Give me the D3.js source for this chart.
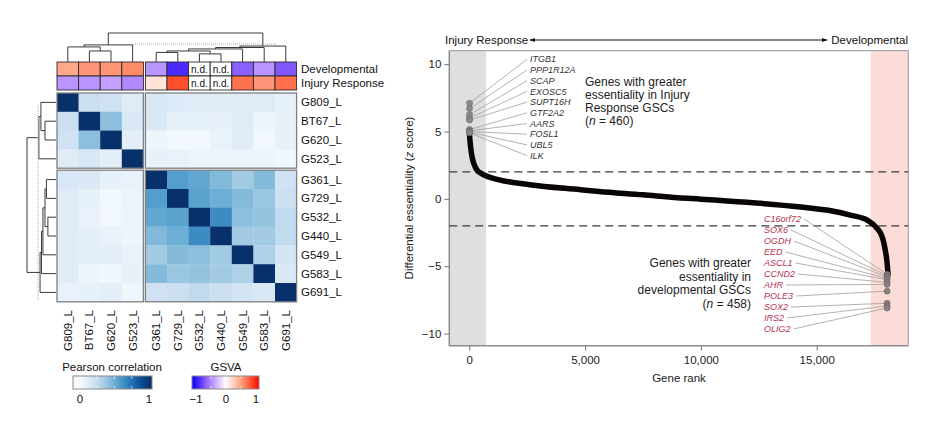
<!DOCTYPE html>
<html><head><meta charset="utf-8">
<script src="https://cdn.jsdelivr.net/npm/d3@7"></script>
<style>
body{margin:0;background:#fff;}
text{font-family:"Liberation Sans",Arial,Helvetica,sans-serif;}
</style>
</head><body>
<svg id="c" width="936" height="434"></svg>
<script>
// ---------------- DATA ----------------
const samples = ["G809_L","BT67_L","G620_L","G523_L","G361_L","G729_L","G532_L","G440_L","G549_L","G583_L","G691_L"];
const corr = [
 [1.00,0.22,0.20,0.12, 0.15,0.13,0.12,0.12,0.12,0.12,0.08],
 [0.22,1.00,0.42,0.15, 0.15,0.08,0.08,0.08,0.12,0.05,0.08],
 [0.20,0.42,1.00,0.10, 0.05,0.02,0.03,0.07,0.12,0.03,0.08],
 [0.12,0.15,0.10,1.00, 0.08,0.07,0.06,0.05,0.06,0.06,0.04],
 [0.16,0.14,0.08,0.07, 1.00,0.57,0.53,0.45,0.36,0.44,0.20],
 [0.12,0.08,0.03,0.06, 0.57,1.00,0.55,0.50,0.44,0.38,0.21],
 [0.12,0.07,0.03,0.05, 0.53,0.55,1.00,0.65,0.42,0.40,0.26],
 [0.12,0.10,0.07,0.05, 0.45,0.50,0.65,1.00,0.36,0.36,0.26],
 [0.12,0.10,0.10,0.07, 0.36,0.44,0.42,0.36,1.00,0.32,0.18],
 [0.12,0.05,0.04,0.08, 0.44,0.38,0.40,0.36,0.32,1.00,0.15],
 [0.07,0.08,0.10,0.04, 0.20,0.22,0.26,0.22,0.18,0.15,1.00]
];
const gsvaRows = ["Developmental","Injury Response"];
const gsvaDevelopmental = [0.45,0.55,0.55,0.6,-0.45,-0.9,null,null,-0.68,-0.45,-0.72];
const gsvaInjury = [-0.45,-0.45,-0.4,-0.5,0.15,0.85,null,null,0.72,0.55,0.72];
// hierarchical merges: [childA, childB, height]; leaves 0..10, internal nodes 11..
const merges = [
 [1,2,0.38],[0,11,0.52],[12,3,0.59],
 [4,5,0.33],[6,7,0.28],[14,15,0.38],[16,8,0.45],[17,9,0.50],[18,10,0.55],
 [13,19,1.0]
];
const cutHeight = 0.62;
const corrTicks = [0,1];
const gsvaTicks = [-1,0,1];

// right panel
const curveRank = [0,20,60,120,200,350,500,800,1200,2600,4800,5600,7500,9000,10000,12000,14300,15500,16450,17185,17617,17800,17876,17960,18030,18080];
const curveZ    = [5.0,4.5,3.8,3.1,2.6,2.1,1.9,1.65,1.45,1.05,0.68,0.55,0.3,0.08,-0.02,-0.25,-0.6,-0.85,-1.2,-1.58,-2.2,-2.7,-3.1,-3.8,-4.6,-5.6];
const upGenes = ["ITGB1","PPP1R12A","SCAP","EXOSC5","SUPT16H","GTF2A2","AARS","FOSL1","UBL5","ILK"];
const upZ = [7.1,6.7,6.25,6.0,5.85,5.15,5.05,5.0,4.95,4.9];
const upRank = [10,10,10,10,10,10,10,10,10,10];
const downGenes = ["C16orf72","SOX6","OGDH","EED","ASCL1","CCND2","AHR","POLE3","SOX2","IRS2","OLIG2"];
const downZ = [-5.6,-5.7,-5.8,-5.9,-6.0,-6.2,-6.35,-6.85,-7.75,-7.95,-8.1];
const downRank = [18040,18040,18040,18040,18040,18040,18040,18040,18040,18040,18040];
const rankTicks = [0,5000,10000,15000];
const zTicks = [-10,-5,0,5,10];
const greyBand = [-864,721];
const pinkBand = [17332,18955];
const thresholds = [2,-2];

// ---------------- DRAW ----------------
const svg = d3.select("#c");
const n = samples.length;

// heatmap geometry
const cellW = 21.6, cellH = 18.8, gapC = 2;
const xb = d3.scaleBand().domain(d3.range(n)).range([57, 57 + n*cellW]);
const yb = d3.scaleBand().domain(d3.range(n)).range([93, 93 + n*cellH]);
const cx = i => xb(i) + (i >= 4 ? gapC : 0);
const cy = i => yb(i) + (i >= 4 ? gapC : 0);
const blue = v => d3.interpolateBlues(v);
const gsvaColor = d3.scaleLinear().domain([-1,0,1]).range(["#0000ff","#ffffff","#ff0000"]).interpolate(d3.interpolateLab);

const hm = svg.append("g");
for (let r = 0; r < n; r++) for (let c = 0; c < n; c++) {
  hm.append("rect").attr("x", cx(c)).attr("y", cy(r)).attr("width", cellW+0.3).attr("height", cellH+0.3)
    .attr("fill", blue(corr[r][c]));
}
// block borders
const groups = [[0,3],[4,10]];
groups.forEach(gr => groups.forEach(gc => {
  hm.append("rect").attr("x", cx(gc[0])).attr("y", cy(gr[0]))
    .attr("width", cx(gc[1]) + cellW - cx(gc[0])).attr("height", cy(gr[1]) + cellH - cy(gr[0]))
    .attr("fill","none").attr("stroke","#808080").attr("stroke-width",1.3);
}));
// row labels
samples.forEach((s,i) => {
  svg.append("text").attr("x", 301).attr("y", cy(i) + cellH/2).attr("dy","0.35em")
    .attr("font-size", 11.5).attr("fill","#111").text(s);
});
// column labels
samples.forEach((s,i) => {
  svg.append("text").attr("transform", `translate(${cx(i)+cellW/2},310) rotate(-90)`)
    .attr("text-anchor","end").attr("dy","0.35em").attr("font-size", 11.5).attr("fill","#111").text(s);
});
// annotation rows
const annY = [62, 76], annH = 14;
[gsvaDevelopmental, gsvaInjury].forEach((vals, k) => {
  vals.forEach((v,i) => {
    svg.append("rect").attr("x", cx(i)).attr("y", annY[k]).attr("width", cellW).attr("height", annH)
      .attr("fill", v === null ? "#ffffff" : gsvaColor(v)).attr("stroke","#2a2a2a").attr("stroke-width",0.9);
    if (v === null) {
      svg.append("text").attr("x", cx(i)+cellW/2).attr("y", annY[k]+annH/2).attr("dy","0.35em")
        .attr("text-anchor","middle").attr("font-size",10).attr("fill","#111").text("n.d.");
    }
  });
  svg.append("text").attr("x", 301).attr("y", annY[k]+annH/2).attr("dy","0.35em")
    .attr("font-size", 11.5).attr("fill","#111").text(gsvaRows[k]);
});

// dendrograms
function nodes(posOf) {
  const pos = d3.range(n).map(posOf), h = d3.range(n).map(() => 0);
  merges.forEach(m => { pos.push((pos[m[0]] + pos[m[1]])/2); h.push(m[2]); });
  return {pos, h};
}
// top
const topH = d3.scaleLinear().domain([0,1]).range([62,33]);
{
  const {pos, h} = nodes(i => cx(i) + cellW/2);
  merges.forEach((m, k) => {
    const id = n + k;
    svg.append("path").attr("d", `M${pos[m[0]]},${topH(h[m[0]])}V${topH(h[id])}H${pos[m[1]]}V${topH(h[m[1]])}`)
      .attr("fill","none").attr("stroke","#3a3a3a").attr("stroke-width",1);
  });
  svg.append("line").attr("x1",133).attr("x2",277).attr("y1",topH(cutHeight)).attr("y2",topH(cutHeight))
    .attr("stroke","#b0b0b0").attr("stroke-width",1).attr("stroke-dasharray","1,1");
}
// left
const leftH = d3.scaleLinear().domain([0,1]).range([56,27]);
{
  const {pos, h} = nodes(i => cy(i) + cellH/2);
  merges.forEach((m, k) => {
    const id = n + k;
    svg.append("path").attr("d", `M${leftH(h[m[0]])},${pos[m[0]]}H${leftH(h[id])}V${pos[m[1]]}H${leftH(h[m[1]])}`)
      .attr("fill","none").attr("stroke","#3a3a3a").attr("stroke-width",1);
  });
  svg.append("line").attr("y1",105).attr("y2",300).attr("x1",leftH(cutHeight)).attr("x2",leftH(cutHeight))
    .attr("stroke","#b0b0b0").attr("stroke-width",1).attr("stroke-dasharray","1,1");
}

// legends
const defs = svg.append("defs");
function gradient(id, colorFn, dom) {
  const g = defs.append("linearGradient").attr("id", id);
  d3.range(0, 1.0001, 0.1).forEach(t => g.append("stop").attr("offset", t).attr("stop-color", colorFn(dom[0] + t*(dom[1]-dom[0]))));
}
// Pearson legend
const pScale = d3.scaleLinear().domain([0,1]).range([80,149]);
gradient("gP", v => blue(Math.max(0, v)), pScale.invert ? [pScale.invert(73), pScale.invert(152)] : [0,1]);
svg.append("text").attr("x",112).attr("y",371).attr("text-anchor","middle").attr("font-size",11.5).attr("fill","#111").text("Pearson correlation");
svg.append("rect").attr("x",73).attr("y",376).attr("width",79).attr("height",13).attr("fill","url(#gP)").attr("stroke","#8a8a8a").attr("stroke-width",1);
[0.25,0.5,0.75].forEach(t => {
  svg.append("line").attr("x1",pScale(t)).attr("x2",pScale(t)).attr("y1",376.5).attr("y2",379).attr("stroke","#fff").attr("stroke-width",0.7);
  svg.append("line").attr("x1",pScale(t)).attr("x2",pScale(t)).attr("y1",386).attr("y2",388.5).attr("stroke","#fff").attr("stroke-width",0.7);
});
corrTicks.forEach(t => svg.append("text").attr("x",pScale(t)).attr("y",403).attr("text-anchor","middle").attr("font-size",11.5).attr("fill","#111").text(d3.format("d")(t)));
// GSVA legend
const gScale = d3.scaleLinear().domain([-1,1]).range([196,256]);
gradient("gG", v => gsvaColor(Math.max(-1, Math.min(1, v))), [gScale.invert(192), gScale.invert(259)]);
svg.append("text").attr("x",226).attr("y",371).attr("text-anchor","middle").attr("font-size",11.5).attr("fill","#111").text("GSVA");
svg.append("rect").attr("x",192).attr("y",376).attr("width",67).attr("height",13).attr("fill","url(#gG)").attr("stroke","#8a8a8a").attr("stroke-width",1);
[-0.5,0,0.5].forEach(t => {
  svg.append("line").attr("x1",gScale(t)).attr("x2",gScale(t)).attr("y1",376.5).attr("y2",379).attr("stroke","#fff").attr("stroke-width",0.7);
  svg.append("line").attr("x1",gScale(t)).attr("x2",gScale(t)).attr("y1",386).attr("y2",388.5).attr("stroke","#fff").attr("stroke-width",0.7);
});
gsvaTicks.forEach(t => svg.append("text").attr("x",gScale(t)).attr("y",403).attr("text-anchor","middle").attr("font-size",11.5).attr("fill","#111").text(d3.format("d")(t)));

// ---------------- RIGHT PANEL ----------------
const X0 = 449.3, X1 = 908.3, Y0 = 50.7, Y1 = 345.7;
const x = d3.scaleLinear().domain([-864, 18955]).range([X0, X1]);
const y = d3.scaleLinear().domain([-10.9, 11]).range([Y1, Y0]);
const rp = svg.append("g");
rp.append("rect").attr("x", x(greyBand[0])).attr("y", Y0).attr("width", x(greyBand[1]) - x(greyBand[0])).attr("height", Y1-Y0).attr("fill","#dfdfe1");
rp.append("rect").attr("x", x(pinkBand[0])).attr("y", Y0).attr("width", x(pinkBand[1]) - x(pinkBand[0])).attr("height", Y1-Y0).attr("fill","#fbdcd6");
// frame
rp.append("path").attr("d", `M${X0},${Y0}H${X1}V${Y1}`).attr("fill","none").attr("stroke","#a8a8a8").attr("stroke-width",1.2);
rp.append("path").attr("d", `M${X0},${Y0}V${Y1}H${X1}`).attr("fill","none").attr("stroke","#8c8c8c").attr("stroke-width",1.5);
// thresholds
thresholds.forEach(t => rp.append("line").attr("x1",X0).attr("x2",X1).attr("y1",y(t)).attr("y2",y(t))
  .attr("stroke","#3a3a3a").attr("stroke-width",1.2).attr("stroke-dasharray","8,5"));
// axes
const ax = rp.append("g").attr("transform", `translate(0,${Y1})`)
  .call(d3.axisBottom(x).tickValues(rankTicks).tickFormat(d3.format(",")).tickSize(5).tickPadding(5));
const ay = rp.append("g").attr("transform", `translate(${X0},0)`)
  .call(d3.axisLeft(y).tickValues(zTicks).tickSize(5).tickPadding(3));
[ax, ay].forEach(a => {
  a.select(".domain").remove();
  a.selectAll(".tick line").attr("stroke","#777");
  a.selectAll(".tick text").attr("font-size",11.5).attr("fill","#222").attr("font-family","Liberation Sans, Arial, sans-serif");
});
rp.append("text").attr("x", 679).attr("y", 382).attr("text-anchor","middle").attr("font-size",11.5).attr("fill","#222").text("Gene rank");
const yt = rp.append("text").attr("transform","translate(413,198) rotate(-90)").attr("text-anchor","middle").attr("font-size",11.5).attr("fill","#222");
yt.append("tspan").text("Differential essentiality (");
yt.append("tspan").attr("font-style","italic").text("z");
yt.append("tspan").text(" score)");

// curve
const line = d3.line().x((d,i) => x(curveRank[i])).y((d,i) => y(curveZ[i])).curve(d3.curveMonotoneX);
rp.append("path").attr("d", line(curveRank)).attr("fill","none").attr("stroke","#0a0505").attr("stroke-width",5.5).attr("stroke-linecap","round");

// top arrow
const arr = defs.append("marker").attr("id","ah").attr("viewBox","0 0 10 10").attr("refX",9).attr("refY",5)
  .attr("markerWidth",6).attr("markerHeight",6).attr("orient","auto-start-reverse");
arr.append("path").attr("d","M0,1.5L10,5L0,8.5z").attr("fill","#111");
rp.append("line").attr("x1",530).attr("x2",827).attr("y1",40).attr("y2",40).attr("stroke","#111").attr("stroke-width",1)
  .attr("marker-start","url(#ah)").attr("marker-end","url(#ah)");
rp.append("text").attr("x",445).attr("y",44).attr("font-size",11.5).attr("fill","#111").text("Injury Response");
rp.append("text").attr("x",908).attr("y",44).attr("text-anchor","end").attr("font-size",11.5).attr("fill","#111").text("Developmental");

// labelled genes: up
upGenes.forEach((g,i) => {
  const ly = 59.3 + i*10.7;
  rp.append("line").attr("x1",527).attr("y1",ly).attr("x2",x(upRank[i])).attr("y2",y(upZ[i])).attr("stroke","#a0a0a0").attr("stroke-width",0.8);
});
upGenes.forEach((g,i) => {
  rp.append("circle").attr("cx",x(upRank[i])).attr("cy",y(upZ[i])).attr("r",3).attr("fill","#8a8a8a").attr("stroke","#6a6a6a").attr("stroke-width",0.6);
  rp.append("text").attr("x",530).attr("y",59.3 + i*10.7).attr("dy","0.35em").attr("font-size",9).attr("font-style","italic").attr("fill","#333").text(g);
});
// down
downGenes.forEach((g,i) => {
  const ly = 219 + i*11;
  const t = rp.append("text").attr("x",764).attr("y",ly).attr("dy","0.35em").attr("font-size",9).attr("font-style","italic").attr("fill","#b33350").text(g);
  const w = t.node().getComputedTextLength();
  rp.append("line").attr("x1",764 + w + 3).attr("y1",ly).attr("x2",x(downRank[i])).attr("y2",y(downZ[i])).attr("stroke","#a0a0a0").attr("stroke-width",0.8);
});
downGenes.forEach((g,i) => {
  rp.append("circle").attr("cx",x(downRank[i])).attr("cy",y(downZ[i])).attr("r",3).attr("fill","#8a8080").attr("stroke","#6a6060").attr("stroke-width",0.6);
});

// annotations
function block(xp, ys, lines, anchor) {
  lines.forEach((ln, i) => {
    const t = rp.append("text").attr("x", xp).attr("y", ys[i]).attr("font-size",12).attr("fill","#222").attr("text-anchor",anchor);
    ln.forEach(part => t.append("tspan").attr("font-style", part[1] ? "italic" : null).text(part[0]));
  });
}
block(585, [86,99,112,125], [[["Genes with greater"]],[["essentiality in Injury"]],[["Response GSCs"]],[["("],["n",1],[" = 460)"]]], "start");
block(751, [267,281,294,308], [[["Genes with greater"]],[["essentiality in"]],[["developmental GSCs"]],[["("],["n",1],[" = 458)"]]], "end");
</script>
</body></html>
